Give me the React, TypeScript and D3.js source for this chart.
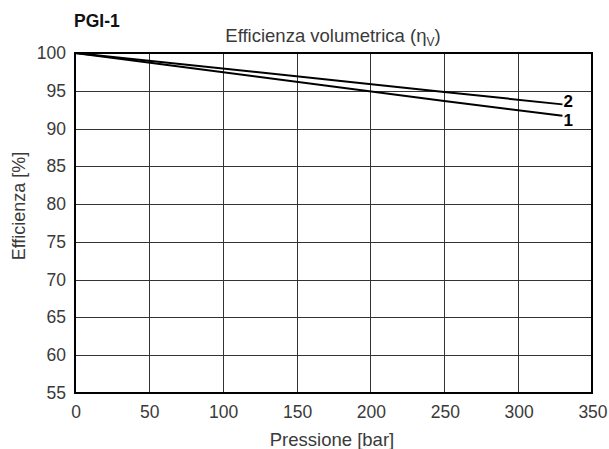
import React, { useRef, useEffect } from 'react';
import * as d3 from 'd3';

// series (pressure in bar, efficiency in %)
const pressione: number[] = [0, 250, 330];
const curva1: number[] = [100, 93.65, 91.7];
const curva2: number[] = [100, 94.85, 93.2];
const curveLabels: string[] = ['1', '2'];

const xTicks: number[] = [0, 50, 100, 150, 200, 250, 300, 350];
const yTicks: number[] = [55, 60, 65, 70, 75, 80, 85, 90, 95, 100];

const App: React.FC = () => {
  const svgRef = useRef<SVGSVGElement>(null);

  useEffect(() => {
    if (!svgRef.current) return;
    const width = 609;
    const height = 449;
    const svg = d3.select(svgRef.current)
      .attr('width', width)
      .attr('height', height);
    svg.selectAll('*').remove();

    const margins = { top: 53, bottom: 56, left: 75, right: 17 };
    const chartWidth = width - margins.left - margins.right;
    const chartHeight = height - margins.top - margins.bottom;
    const font = 'Liberation Sans, Arial, Helvetica, sans-serif';
    const textCol = '#3a3a3a';

    //scales
    const xScale = d3.scaleLinear().domain([0, 350]).range([0, chartWidth]);
    const yScale = d3.scaleLinear().domain([55, 100]).range([chartHeight, 0]);

    const g = svg.append('g').attr('transform', `translate(${margins.left}, ${margins.top})`);

    //grid
    g.selectAll('.vgrid')
      .data(xTicks.slice(1, -1))
      .enter().append('line')
      .attr('x1', d => Math.round(xScale(d)) + 0.5)
      .attr('x2', d => Math.round(xScale(d)) + 0.5)
      .attr('y1', 0)
      .attr('y2', chartHeight)
      .attr('stroke', '#333')
      .attr('stroke-width', 1);
    g.selectAll('.hgrid')
      .data(yTicks.slice(1, -1))
      .enter().append('line')
      .attr('x1', 0)
      .attr('x2', chartWidth)
      .attr('y1', d => Math.round(yScale(d)) + 0.5)
      .attr('y2', d => Math.round(yScale(d)) + 0.5)
      .attr('stroke', '#333')
      .attr('stroke-width', 1);

    //frame
    g.append('rect')
      .attr('x', 0)
      .attr('y', 0)
      .attr('width', chartWidth)
      .attr('height', chartHeight)
      .attr('fill', 'none')
      .attr('stroke', '#000')
      .attr('stroke-width', 2);

    //tick labels
    g.selectAll('.xlab')
      .data(xTicks)
      .enter().append('text')
      .attr('x', d => xScale(d) + 1)
      .attr('y', chartHeight + 25)
      .attr('text-anchor', 'middle')
      .attr('font-family', font)
      .attr('font-size', 17.5)
      .attr('fill', textCol)
      .text(d => String(d));
    g.selectAll('.ylab')
      .data(yTicks)
      .enter().append('text')
      .attr('x', -9)
      .attr('y', d => yScale(d) + 6)
      .attr('text-anchor', 'end')
      .attr('font-family', font)
      .attr('font-size', 17.5)
      .attr('fill', textCol)
      .text(d => String(d));

    //lines
    const line = d3.line<number>()
      .x((_, i) => xScale(pressione[i]))
      .y(d => yScale(d));
    const labelDy = [10, 3];
    [curva1, curva2].forEach((serie, k) => {
      g.append('path')
        .datum(serie)
        .attr('fill', 'none')
        .attr('stroke', '#000')
        .attr('stroke-width', 2)
        .attr('d', line);
      const last = serie.length - 1;
      g.append('text')
        .attr('x', xScale(pressione[last]) + 1)
        .attr('y', yScale(serie[last]) + labelDy[k])
        .attr('font-family', font)
        .attr('font-size', 17)
        .attr('font-weight', 'bold')
        .attr('fill', '#000')
        .text(curveLabels[k]);
    });

    //titles
    svg.append('text')
      .attr('x', 74)
      .attr('y', 27)
      .attr('font-family', font)
      .attr('font-size', 17.5)
      .attr('font-weight', 'bold')
      .attr('fill', '#111')
      .text('PGI-1');
    const title = svg.append('text')
      .attr('x', 333)
      .attr('y', 42)
      .attr('text-anchor', 'middle')
      .attr('font-family', font)
      .attr('font-size', 18.5)
      .attr('fill', textCol);
    title.append('tspan').text('Efficienza volumetrica (η');
    title.append('tspan').attr('font-size', 12).attr('dy', 4).text('V');
    title.append('tspan').attr('dy', -4).text(')');

    svg.append('text')
      .attr('x', 332)
      .attr('y', 446)
      .attr('text-anchor', 'middle')
      .attr('font-family', font)
      .attr('font-size', 18.5)
      .attr('fill', textCol)
      .text('Pressione [bar]');
    svg.append('text')
      .attr('transform', 'translate(25, 206) rotate(-90)')
      .attr('text-anchor', 'middle')
      .attr('font-family', font)
      .attr('font-size', 18)
      .attr('fill', textCol)
      .text('Efficienza [%]');
  }, []);

  return (
    <div style={{ position: 'absolute', left: 0, top: 0, background: '#fff' }}>
      <svg ref={svgRef} style={{ display: 'block' }} />
    </div>
  );
};

export default App;
